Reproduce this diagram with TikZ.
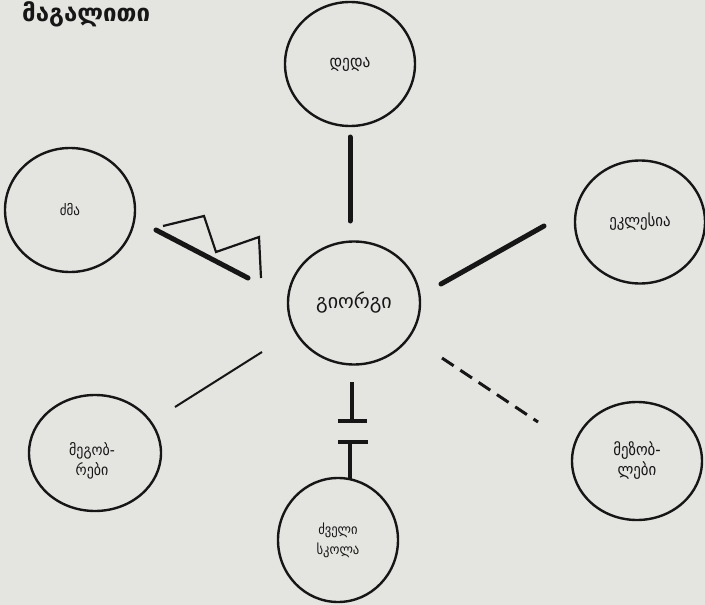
\documentclass[tikz,border=0pt]{standalone}
\usepackage{fontspec}
\setmainfont{DejaVu Sans}
\newfontfamily\geocond{DejaVu Sans Condensed}
\usetikzlibrary{shapes.geometric}
\definecolor{paper}{RGB}{228,228,225}
\definecolor{ink}{RGB}{22,22,22}
\begin{document}
\begin{tikzpicture}[x=1pt,y=-1pt,
  person/.style={draw=ink, line width=2.4pt, ellipse, inner sep=0pt, align=center,
    text=ink, font=\geocond\fontsize{15}{20}\selectfont},
  strong/.style={draw=ink, line width=5pt, line cap=round},
  weak/.style={draw=ink, line width=2pt},
  broken/.style={draw=ink, line width=3pt, dash pattern=on 14pt off 8pt},
  barrier/.style={draw=ink, line width=3.5pt},
  zig/.style={draw=ink, line width=2.2pt, line join=miter}]
\fill[paper] (0,0) rectangle (705,605);
\useasboundingbox (0,0) rectangle (705,605);

\node[anchor=base west, text=ink, inner sep=0pt, font=\bfseries\fontsize{24}{28}\selectfont] (title) at (22,21) {მაგალითი};

\node[person, minimum width=132pt, minimum height=123pt, font=\fontsize{20}{24}\selectfont] (g) at (354,303) {გიორგი};
\node[person, minimum width=130pt, minimum height=124pt, font=\geocond\fontsize{17}{20}\selectfont] (d) at (350,64) {დედა};
\node[person, minimum width=130pt, minimum height=124pt, font=\geocond\fontsize{14.5}{20}\selectfont] (dz) at (70,210) {ძმა};
\node[person, minimum width=130pt, minimum height=123pt, font=\geocond\fontsize{16.5}{20}\selectfont] (e) at (640,222) {ეკლესია};
\node[person, minimum width=132pt, minimum height=116pt, font=\geocond\fontsize{15.5}{20}\selectfont] (m) at (95,453) {};
\node[text=ink, align=center, inner sep=0pt, font=\geocond\fontsize{15.5}{20}\selectfont] (mt) at (92,461) {მეგობ-\\რები};
\node[person, minimum width=120pt, minimum height=124pt, font=\geocond\fontsize{14}{20}\selectfont] (s) at (338,540) {ძველი\\სკოლა};
\node[person, minimum width=130pt, minimum height=118pt, font=\geocond\fontsize{16.5}{20}\selectfont] (n) at (637,461) {მეზობ-\\ლები};

% mother
\coordinate (d1) at (350,137);
\coordinate (d2) at (350,221);
\draw[strong] (d1) -- (d2);
% church
\coordinate (e1) at (441,284);
\coordinate (e2) at (544,226);
\draw[strong] (e1) -- (e2);
% brother
\coordinate (b1) at (156,230);
\coordinate (b2) at (248,278);
\draw[strong] (b1) -- (b2);
\coordinate (z1) at (163,226);
\coordinate (z2) at (204,216);
\coordinate (z3) at (216,252);
\coordinate (z4) at (259,237);
\coordinate (z5) at (261,278);
\draw[zig] (z1) -- (z2) -- (z3) -- (z4) -- (z5);
% friends
\coordinate (f1) at (262,352);
\coordinate (f2) at (175,407);
\draw[weak] (f1) -- (f2);
% neighbours
\coordinate (n1) at (442,358);
\coordinate (n2) at (538,422);
\draw[broken] (n1) -- (n2);
% old school
\coordinate (s1) at (352,382);
\coordinate (s2) at (352,421);
\coordinate (s3) at (338,421);
\coordinate (s4) at (367,421);
\draw[barrier] (s1) -- (s2);
\draw[barrier] (s3) -- (s4);
\coordinate (s5) at (338,442);
\coordinate (s6) at (368,442);
\coordinate (s7) at (350,442);
\coordinate (s8) at (350,480);
\draw[barrier] (s5) -- (s6);
\draw[barrier] (s7) -- (s8);
\end{tikzpicture}
\end{document}
